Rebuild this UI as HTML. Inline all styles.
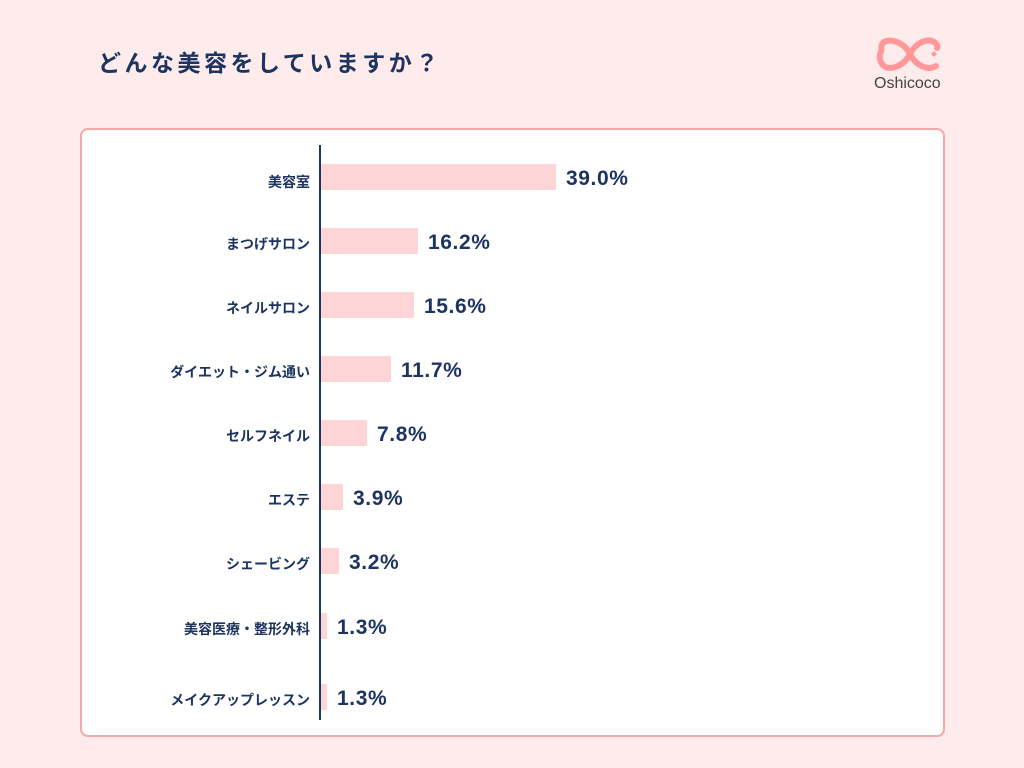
<!DOCTYPE html>
<html><head><meta charset="utf-8"><style>
body{margin:0;width:1024px;height:768px;background:#feebec;position:relative;overflow:hidden;font-family:"Liberation Sans","Noto Sans CJK JP",sans-serif;color:#1d3461}
.t{position:absolute;left:98px;top:44px;font-size:23px;font-weight:bold;letter-spacing:3.5px}
.card{position:absolute;left:80px;top:128px;width:861px;height:605px;background:#fff;border:2px solid #f7a9a9;border-radius:8px}
.ax{position:absolute;left:319px;top:145px;width:2px;height:575px;background:#1d3461}
.bar{position:absolute;left:321px;height:26px;background:#fdd5d6}
.lab{position:absolute;right:714px;font-size:14px;font-weight:bold;text-align:right;white-space:nowrap}
.v{position:absolute;font-size:21px;font-weight:bold;letter-spacing:0.6px}
</style></head><body>
<div class="t">どんな美容をしていますか？</div>
<svg style="position:absolute;left:876px;top:36px" width="68" height="40" viewBox="0 0 68 40">
<path d="M34 18 C28 6 14 2 8 6 C4 9 6 13 5 16 C3 19 3 26 8 30 C14 35 28 30 34 18 C40 6 52 2 58 6 C61 8 62 10 61 12" fill="none" stroke="#f99" stroke-width="6" stroke-linecap="round"/>
<path d="M34 18 C40 30 52 35 60 30" fill="none" stroke="#f99" stroke-width="6" stroke-linecap="round"/>
<path d="M58 15 l3 3 l-3 3 l-3 -3z" fill="#f99"/>
</svg>
<div style="position:absolute;left:874px;top:75px;font-size:16px;color:#444">Oshicoco</div>
<div class="card"></div>
<div class="ax"></div>
<div class="lab" style="top:172px">美容室</div><div class="bar" style="top:164px;width:235px"></div><div class="v" style="left:566px;top:167px">39.0%</div>
<div class="lab" style="top:234px">まつげサロン</div><div class="bar" style="top:228px;width:97px"></div><div class="v" style="left:428px;top:231px">16.2%</div>
<div class="lab" style="top:298px">ネイルサロン</div><div class="bar" style="top:292px;width:93px"></div><div class="v" style="left:424px;top:295px">15.6%</div>
<div class="lab" style="top:362px">ダイエット・ジム通い</div><div class="bar" style="top:356px;width:70px"></div><div class="v" style="left:401px;top:359px">11.7%</div>
<div class="lab" style="top:426px">セルフネイル</div><div class="bar" style="top:420px;width:46px"></div><div class="v" style="left:377px;top:423px">7.8%</div>
<div class="lab" style="top:490px">エステ</div><div class="bar" style="top:484px;width:22px"></div><div class="v" style="left:353px;top:487px">3.9%</div>
<div class="lab" style="top:554px">シェービング</div><div class="bar" style="top:548px;width:18px"></div><div class="v" style="left:349px;top:551px">3.2%</div>
<div class="lab" style="top:619px">美容医療・整形外科</div><div class="bar" style="top:613px;width:6px"></div><div class="v" style="left:337px;top:616px">1.3%</div>
<div class="lab" style="top:690px">メイクアップレッスン</div><div class="bar" style="top:684px;width:6px"></div><div class="v" style="left:337px;top:687px">1.3%</div>
</body></html>
